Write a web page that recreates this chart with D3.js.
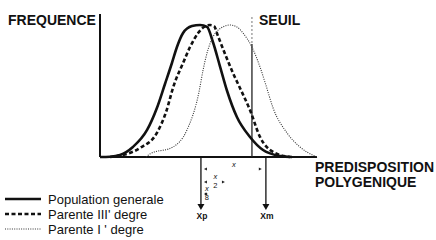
<!DOCTYPE html>
<html>
<head>
<meta charset="utf-8">
<script src="https://cdn.jsdelivr.net/npm/d3@7"></script>
<style>
  html, body { margin: 0; padding: 0; background: #fff; }
  svg { display: block; }
  text { font-family: "Liberation Sans", Arial, Helvetica, sans-serif; fill: #111; }
</style>
</head>
<body>
<svg id="chart" width="436" height="240"></svg>
<script>
// ---- data (x: predisposition units 0-100, y: relative frequency 0-100) ----
const populationGenerale = [
  [0,0],[4.6,0.2],[9.2,1.5],[15.1,7.6],[21.6,20.5],[26.1,37.1],[29.8,55.3],[33.0,71.2],
  [35.3,83.3],[38.1,93.9],[42.2,99.2],[45.9,100],[49.1,98.5],[51.8,87.1],[55.0,68.9],
  [58.3,50.0],[62.8,30.3],[68.8,15.2],[74.8,5.3],[82.6,0.8],[88.1,0]
];
const parenteIII = [
  [4.6,0],[9.2,1.1],[18.3,6.8],[26.1,18.2],[30.3,34.1],[33.9,54.5],[38.1,71.2],[41.3,83.3],
  [45.0,93.9],[47.7,98.5],[50.5,100],[52.3,99.2],[54.1,91.7],[58.3,74.2],[61.0,63.6],
  [64.2,52.3],[68.8,35.6],[73.4,15.2],[79.4,3.8],[87.2,0]
];
const parenteI = [
  [21.1,0],[22.9,2.3],[33.5,7.6],[39.9,20.5],[45.4,49.2],[47.2,65.2],[49.1,78.8],[51.8,90.9],
  [55.5,97.7],[59.6,100],[62.8,98.5],[65.6,93.9],[69.7,83.3],[73.4,68.2],[76.1,54.5],
  [79.4,37.1],[85.8,18.2],[91.7,7.6],[98.6,0.8],[100,0]
];
const seuilX = 69.7;
const markerLabels = ["Xp", "Xm"];
const markerValues = [46.3, 76.1];
const spanLabels = [["x", ""], ["x", "2"], ["x", "8"]];
const spanEnds = [75.6, 58.7, 50.9];
const legendLabels = ["Population generale", "Parente  III' degre", "Parente  I ' degre"];
const axisLabels = { y: "FREQUENCE", seuil: "SEUIL", x: ["PREDISPOSITION", "POLYGENIQUE"] };

// ---- drawing ----
const svg = d3.select("#chart");
const x = d3.scaleLinear().domain([0, 100]).range([100, 318]);
const y = d3.scaleLinear().domain([0, 100]).range([157, 25]);

const line = d3.line().x(d => x(d[0])).y(d => y(d[1])).curve(d3.curveMonotoneX);

// axes
const yAxis = d3.axisLeft(y).tickValues([]).tickSizeOuter(0);
const gy = svg.append("g").attr("transform", `translate(${x(0)},0)`).call(yAxis);
gy.select(".domain").attr("d", `M0,${y(0)}V14`).attr("stroke", "#111").attr("stroke-width", 2);
const xAxis = d3.axisBottom(x).tickValues([]).tickSizeOuter(0);
const gx = svg.append("g").attr("transform", `translate(0,${y(0)})`).call(xAxis);
gx.select(".domain").attr("d", `M${x(0)},0H${x(100) - 1}`).attr("stroke", "#111").attr("stroke-width", 2);

// seuil line
svg.append("line").attr("x1", x(seuilX)).attr("x2", x(seuilX))
  .attr("y1", 17).attr("y2", 44).attr("stroke", "#777").attr("stroke-width", 1)
  .attr("stroke-dasharray", "2,2");
svg.append("line").attr("x1", x(seuilX)).attr("x2", x(seuilX))
  .attr("y1", 44).attr("y2", y(0)).attr("stroke", "#222").attr("stroke-width", 1.3);

// curves
const styles = [
  { data: populationGenerale, w: 2.6, dash: null, color: "#111" },
  { data: parenteIII, w: 2.6, dash: "4,2.5", color: "#111" },
  { data: parenteI, w: 1.1, dash: "1,1.3", color: "#333" }
];
svg.append("g").selectAll("path").data(styles).join("path")
  .attr("d", d => line(d.data))
  .attr("fill", "none")
  .attr("stroke", d => d.color)
  .attr("stroke-width", d => d.w)
  .attr("stroke-dasharray", d => d.dash);

// axis labels
svg.append("text").attr("x", 8).attr("y", 25).attr("font-size", 14).attr("font-weight", "bold")
  .text(axisLabels.y);
svg.append("text").attr("x", 259).attr("y", 25).attr("font-size", 14).attr("font-weight", "bold")
  .text(axisLabels.seuil);
svg.append("text").attr("x", 315).attr("y", 172).attr("font-size", 14).attr("font-weight", "bold")
  .text(axisLabels.x[0]);
svg.append("text").attr("x", 315).attr("y", 187).attr("font-size", 14).attr("font-weight", "bold")
  .text(axisLabels.x[1]);

// marker arrows (Xp, Xm)
const mk = svg.append("g").selectAll("g").data(markerValues).join("g");
mk.append("line").attr("x1", d => x(d)).attr("x2", d => x(d))
  .attr("y1", y(0)).attr("y2", 205).attr("stroke", "#111").attr("stroke-width", 1.3);
mk.append("path").attr("d", d => `M${x(d) - 3.5},204L${x(d) + 3.5},204L${x(d)},210Z`).attr("fill", "#111");
mk.append("text").attr("x", d => x(d) + 1).attr("y", 219).attr("text-anchor", "middle")
  .attr("font-size", 8.5).attr("font-weight", "bold")
  .text((d, i) => markerLabels[i]);

// spans x, x/2, x/8
const spanY = [169, 182, 194];
const sp = svg.append("g").selectAll("g").data(spanEnds).join("g");
sp.append("path").attr("d", (d, i) => {
  const yy = spanY[i], x0 = x(markerValues[0]) + 3;
  return `M${x0},${yy}L${x0 + 3},${yy - 1.6}L${x0 + 3},${yy + 1.6}Z`;
}).attr("fill", "#222");
sp.append("path").attr("d", (d, i) => {
  const yy = spanY[i], x1 = x(d) - 3;
  return `M${x1},${yy}L${x1 - 3},${yy - 1.6}L${x1 - 3},${yy + 1.6}Z`;
}).attr("fill", "#222");
sp.append("text")
  .attr("x", d => (x(markerValues[0]) + x(d)) / 2 + 1)
  .attr("y", (d, i) => i === 0 ? 167 : spanY[i] - 3)
  .attr("text-anchor", "middle").attr("font-size", 7.5).attr("font-style", "italic")
  .text((d, i) => spanLabels[i][0]);
sp.append("text")
  .attr("x", d => (x(markerValues[0]) + x(d)) / 2 + 1)
  .attr("y", (d, i) => spanY[i] + 6)
  .attr("text-anchor", "middle").attr("font-size", 7.5)
  .text((d, i) => spanLabels[i][1]);

// legend
const legY = [199, 214, 229];
const lg = svg.append("g").selectAll("g").data(styles).join("g")
  .attr("transform", (d, i) => `translate(0,${legY[i]})`);
lg.append("line").attr("x1", 5).attr("x2", 41).attr("y1", 0).attr("y2", 0)
  .attr("stroke", d => d.color).attr("stroke-width", (d, i) => i === 2 ? 1.1 : 2.4)
  .attr("stroke-dasharray", d => d.dash);
lg.append("text").attr("x", 48).attr("y", 4.5).attr("font-size", 13)
  .text((d, i) => legendLabels[i]);
</script>
</body>
</html>
